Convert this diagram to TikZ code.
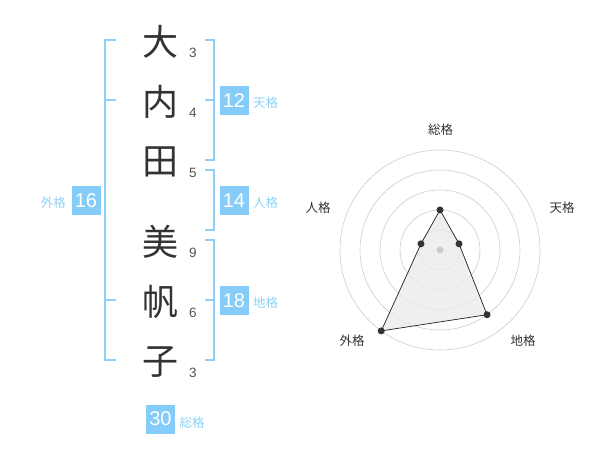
\documentclass[tikz,border=0pt]{standalone}
\usepackage{fontspec}
\setmainfont{Liberation Sans}
\newfontfamily\jp{Noto Sans CJK JP}
\definecolor{kanji}{HTML}{333333}
\definecolor{bluebox}{HTML}{85CDF8}
\definecolor{bluetext}{HTML}{8ED2F8}
\definecolor{bracketc}{HTML}{8DD0F7}
\definecolor{ringc}{HTML}{CCCCCC}
\tikzset{
  kj/.style={font=\jp\fontsize{36}{36}\selectfont, text=kanji, inner sep=0pt},
  strokes/.style={font=\fontsize{13.5}{14}\selectfont, text=kanji!85, inner sep=0pt},
  numbox/.style={fill=bluebox, text=white, minimum width=29pt, minimum height=29pt, inner sep=0pt, font=\fontsize{20}{20}\selectfont},
  kaku/.style={font=\jp\fontsize{12.5}{13}\selectfont, text=bluetext, inner sep=0pt},
  brk/.style={draw=bracketc, line width=1.6pt},
  ring/.style={draw=ringc, line width=0.6pt},
  rlabel/.style={font=\jp\fontsize{12.5}{13}\selectfont, text=kanji, inner sep=0pt},
  dotpt/.style={circle, fill=kanji, inner sep=0pt, minimum size=7pt}
}
\begin{document}
\begin{tikzpicture}[x=1pt,y=-1pt]
\useasboundingbox (0,0) rectangle (600,470);
% name characters
\node[kj] (c1) at (160,42) {大};
\node[kj] (c2) at (160,102) {内};
\node[kj] (c3) at (160,162) {田};
\node[kj] (c4) at (160,242) {美};
\node[kj] (c5) at (160,302) {帆};
\node[kj] (c6) at (160,362) {子};
% stroke counts
\node[strokes] (s1) at (193,53) {3};
\node[strokes] (s2) at (193,113) {4};
\node[strokes] (s3) at (193,173) {5};
\node[strokes] (s4) at (193,253) {9};
\node[strokes] (s5) at (193,313) {6};
\node[strokes] (s6) at (193,373) {3};
% brackets
\draw[brk] (116,40) -- (105,40) -- (105,360) -- (116,360);
\draw[brk] (105,100) -- (116,100);
\draw[brk] (105,300) -- (116,300);
\draw[brk] (205,40) -- (214,40) -- (214,160) -- (205,160);
\draw[brk] (214,100) -- (205,100);
\draw[brk] (205,170) -- (214,170) -- (214,230) -- (205,230);
\draw[brk] (205,240) -- (214,240) -- (214,360) -- (205,360);
\draw[brk] (214,300) -- (205,300);
% boxes and labels
\node[numbox] (b12) at (234,100.5) {12};
\node[kaku, anchor=west] (l12) at (253,103) {天格};
\node[numbox] (b14) at (234,200.5) {14};
\node[kaku, anchor=west] (l14) at (253,203) {人格};
\node[numbox] (b18) at (234,300.5) {18};
\node[kaku, anchor=west] (l18) at (253,303) {地格};
\node[numbox] (b16) at (86,200.5) {16};
\node[kaku, anchor=east] (l16) at (66,203) {外格};
\node[numbox] (b30) at (160.5,419) {30};
\node[kaku, anchor=west] (l30) at (179.5,422.5) {総格};
% radar
\foreach \r in {20,40,60,80,100} \draw[ring] (440,250) circle[radius=\r pt];
\coordinate (rc) at (440,250);
\coordinate (p1) at (440,210);
\coordinate (p2) at (459.02,243.82);
\coordinate (p3) at (487.02,314.72);
\coordinate (p4) at (381.22,330.90);
\coordinate (p5) at (420.98,243.82);
\fill[black!8, opacity=0.8] (p1) -- (p2) -- (p3) -- (p4) -- (p5) -- cycle;
\draw[kanji!60!black, line width=0.7pt] (p1) -- (p2) -- (p3) -- (p4) -- (p5) -- cycle;
\fill[ringc] (rc) circle[radius=3.5pt];
\foreach \p in {p1,p2,p3,p4,p5} \node[dotpt] at (\p) {};
\node[rlabel] (r1) at (440.5,130) {総格};
\node[rlabel] (r2) at (562,208) {天格};
\node[rlabel] (r3) at (523,341) {地格};
\node[rlabel] (r4) at (352,341) {外格};
\node[rlabel] (r5) at (318,208) {人格};
\end{tikzpicture}
\end{document}
